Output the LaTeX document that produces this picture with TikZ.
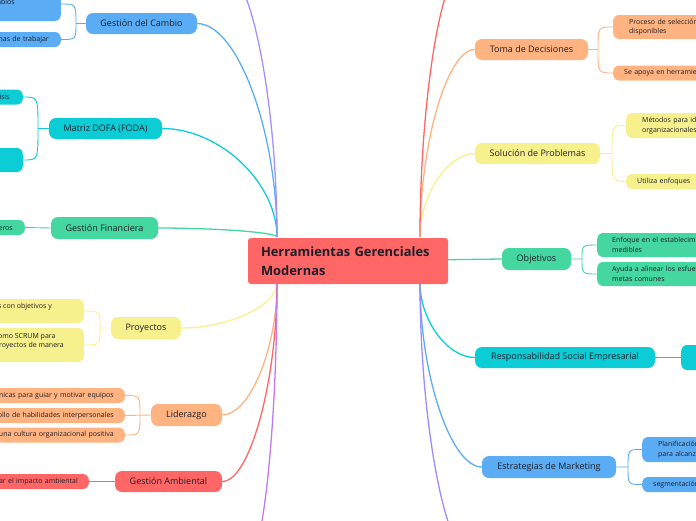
\documentclass[tikz,border=0pt]{standalone}
\usepackage{fontspec}
\setmainfont{Open Sans}
\usetikzlibrary{calc,backgrounds}
\definecolor{cred}{HTML}{FF6666}
\definecolor{cblue}{HTML}{5AADF5}
\definecolor{cteal}{HTML}{0CCCD5}
\definecolor{cgreen}{HTML}{44D7A0}
\definecolor{cyellow}{HTML}{F7F18D}
\definecolor{corange}{HTML}{FFB380}
\definecolor{clav}{HTML}{A192FF}
\definecolor{clav2}{HTML}{9C8CFF}
\definecolor{cviolet}{HTML}{C07AF2}
\definecolor{txt}{HTML}{1E1E2A}
\begin{document}
\begin{tikzpicture}[x=1pt,y=-1pt,
  mainnode/.style={rounded corners=7pt, minimum height=21pt, inner sep=0pt, font=\fontsize{9}{11}\selectfont, text=txt},
  subnode/.style={rounded corners=6pt, inner ysep=3pt, font=\fontsize{7}{9.5}\selectfont, text=txt, minimum height=15pt},
  lsub/.style={subnode, anchor=east, text width=150pt, align=right, inner xsep=11pt},
  lsubl/.style={subnode, anchor=east, align=left},
  rsub/.style={subnode, anchor=west, text width=160pt, align=left},
  mainlink/.style={line width=1.3pt},
  sublink/.style={line width=0.9pt},
]
\path[use as bounding box] (0,0) rectangle (696,520);
\clip (0,0) rectangle (696,520);

% central node
\node[fill=cred, rounded corners=3pt, minimum width=200pt, minimum height=46pt, text width=174pt, inner xsep=13pt, inner ysep=0pt, align=left, font=\fontsize{12.9}{19}\selectfont\bfseries, text=txt] (root) at (348,261) {Herramientas Gerenciales\\Modernas};

% main branches left
\node[mainnode, fill=cblue, minimum width=111pt] (gc) at (141.5,23.5) {Gestión del Cambio};
\node[mainnode, fill=cteal, minimum width=113pt] (md) at (105.5,128.5) {Matriz DOFA (FODA)};
\node[mainnode, fill=cgreen, minimum width=107pt, minimum height=22pt] (gf) at (104.5,228) {Gestión Financiera};
\node[mainnode, fill=cyellow, minimum width=70pt, minimum height=22pt] (pr) at (146,328) {Proyectos};
\node[mainnode, fill=corange, minimum width=71pt, minimum height=22pt] (li) at (186.5,415) {Liderazgo};
\node[mainnode, fill=cred, minimum width=107pt] (ga) at (168.5,481.5) {Gestión Ambiental};
% main branches right
\node[mainnode, fill=corange, minimum width=113pt] (td) at (531.5,49.5) {Toma de Decisiones};
\node[mainnode, fill=cyellow, minimum width=125pt] (sp) at (537.5,153.5) {Solución de Problemas};
\node[mainnode, fill=cgreen, minimum width=69pt, minimum height=22pt] (ob) at (536.5,259) {Objetivos};
\node[mainnode, fill=cteal, minimum width=180pt] (rs) at (565,357.5) {Responsabilidad Social Empresarial};
\node[mainnode, fill=cblue, minimum width=134pt, minimum height=22pt] (em) at (549,467) {Estrategias de Marketing};

% sub nodes left
\node[lsubl, fill=cblue, inner xsep=46pt, minimum height=34pt] (gc1) at (61,4) {\mbox{}\\cambios\\\mbox{}};
\node[lsub, fill=cblue, inner xsep=12pt] (gc2) at (61,39.5) {formas de trabajar};
\node[lsub, fill=cteal, inner xsep=13pt] (md1) at (23,97) {de análisis};
\node[subnode, anchor=east, fill=cteal, minimum width=60pt, minimum height=24pt] (md2) at (23,160) {};
\node[lsub, fill=cgreen, inner xsep=12pt] (gf1) at (25,227.5) {financieros};
\node[lsubl, fill=cyellow, inner xsep=32pt, minimum height=24pt] (pr1) at (84,311) {proyectos con objetivos y\\\mbox{}};
\node[lsubl, fill=cyellow, inner xsep=20pt, minimum height=34pt] (pr2) at (84,345) {como SCRUM para\\proyectos de manera\\\mbox{}};
\node[lsub, fill=corange] (li1) at (125,395.5) {Técnicas para guiar y motivar equipos};
\node[lsub, fill=corange] (li2) at (125,415.5) {Desarrollo de habilidades interpersonales};
\node[lsub, fill=corange] (li3) at (125,435) {una cultura organizacional positiva};
\node[lsub, fill=cred] (ga1) at (89,481.5) {Minimizar el impacto ambiental};

% sub nodes right
\node[rsub, fill=corange, inner xsep=16pt, minimum height=24pt] (td1) at (613,27) {Proceso de selección\\disponibles};
\node[rsub, fill=corange, inner xsep=11pt] (td2) at (613,73) {Se apoya en herramientas};
\node[rsub, fill=cyellow, inner xsep=16pt, minimum height=25pt] (sp1) at (626,125.5) {Métodos para identificar\\organizacionales};
\node[rsub, fill=cyellow, inner xsep=11pt] (sp2) at (626,181.5) {Utiliza enfoques};
\node[rsub, fill=cgreen, inner xsep=15pt, minimum height=24pt] (ob1) at (597,245) {Enfoque en el establecimiento\\medibles};
\node[rsub, fill=cgreen, inner xsep=15pt, minimum height=24pt] (ob2) at (597,274) {Ayuda a alinear los esfuerzos\\metas comunes};
\node[subnode, anchor=west, fill=cteal, minimum width=40pt, minimum height=25pt] (rs1) at (681,357.5) {};
\node[rsub, fill=cblue, inner xsep=16pt, minimum height=25pt] (em1) at (642,449.5) {Planificación\\para alcanzar};
\node[rsub, fill=cblue, inner xsep=11pt] (em2) at (642,484.5) {segmentación};

% anchor points on the central node and branches leaving the picture
\coordinate (ctl) at (277,237);
\coordinate (cbl) at (277,283);
\coordinate (ctr) at (420,237);
\coordinate (cbr) at (420,283);
\coordinate (otl) at (225,-30);
\coordinate (otr) at (462,-30);
\coordinate (obl) at (250,555);
\coordinate (obr) at (470,555);

% bracket junctions
\coordinate (gcj) at (76,23.5);
\coordinate (mdj) at (38,128.5);
\coordinate (prj) at (100,328);
\coordinate (lij) at (140,415);
\coordinate (tdj) at (598,49.5);
\coordinate (spj) at (612,153.5);
\coordinate (obj) at (582,259);
\coordinate (emj) at (628,467);

\begin{scope}[on background layer]
  % main connectors, left
  \foreach \n/\e/\c in {gc/ctl/cblue, md/ctl/cteal, gf/ctl/cgreen, pr/cbl/cyellow, li/cbl/corange, ga/cbl/cred}{
    \draw[mainlink, \c] (\n.east) .. controls ($(\n.east)!0.5!(\e |- \n.east)$) and ($(\e)!0.5!(\e |- \n.east)$) .. (\e);
  }
  % main connectors, right
  \foreach \n/\e/\c in {td/ctr/corange, sp/ctr/cyellow, rs/cbr/cteal, em/cbr/cblue}{
    \draw[mainlink, \c] (\n.west) .. controls ($(\n.west)!0.5!(\e |- \n.west)$) and ($(\e)!0.5!(\e |- \n.west)$) .. (\e);
  }
  \draw[mainlink, cgreen] (root.center) -- (ob.west);
  % branches whose nodes lie outside the picture
  \foreach \o/\e/\c in {otl/ctl/clav, otr/ctr/cred, obl/cbl/cviolet, obr/cbr/clav2}{
    \draw[mainlink, \c] (\o) .. controls ($(\o)!0.5!(\e |- \o)$) and ($(\e)!0.5!(\e |- \o)$) .. (\e);
  }
\end{scope}

% sub connectors, left
\draw[sublink, cblue] (gc.west) -- (gcj) (gcj) .. controls (gcj |- gc1.east) .. (gc1.east) (gcj) .. controls (gcj |- gc2.east) .. (gc2.east);
\draw[sublink, cteal] (md.west) -- (mdj) (mdj) .. controls (mdj |- md1.east) .. (md1.east) (mdj) .. controls (mdj |- md2.east) .. (md2.east);
\draw[sublink, cgreen] (gf.west) -- (gf1.east);
\draw[sublink, cyellow] (pr.west) -- (prj) (prj) .. controls (prj |- pr1.east) .. (pr1.east) (prj) .. controls (prj |- pr2.east) .. (pr2.east);
\draw[sublink, corange] (li.west) -- (li2.east) (lij) .. controls (lij |- li1.east) .. (li1.east) (lij) .. controls (lij |- li3.east) .. (li3.east);
\draw[sublink, cred] (ga.west) -- (ga1.east);
% sub connectors, right
\draw[sublink, corange] (td.east) -- (tdj) (tdj) .. controls (tdj |- td1.west) .. (td1.west) (tdj) .. controls (tdj |- td2.west) .. (td2.west);
\draw[sublink, cyellow] (sp.east) -- (spj) (spj) .. controls (spj |- sp1.west) .. (sp1.west) (spj) .. controls (spj |- sp2.west) .. (sp2.west);
\draw[sublink, cgreen] (ob.east) -- (obj) (obj) .. controls (obj |- ob1.west) .. (ob1.west) (obj) .. controls (obj |- ob2.west) .. (ob2.west);
\draw[sublink, cteal] (rs.east) -- (rs1.west);
\draw[sublink, cblue] (em.east) -- (emj) (emj) .. controls (emj |- em1.west) .. (em1.west) (emj) .. controls (emj |- em2.west) .. (em2.west);
\end{tikzpicture}
\end{document}
